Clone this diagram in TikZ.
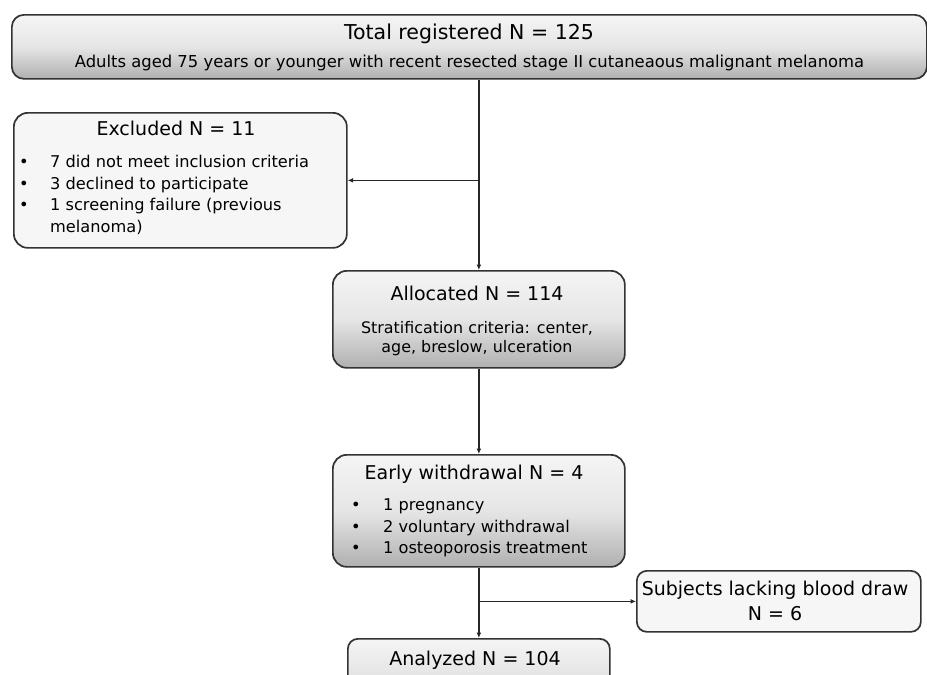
\documentclass[tikz,border=0pt]{standalone}
\usepackage{fontspec}
\setmainfont{DejaVu Sans}
\usetikzlibrary{arrows.meta}
\begin{document}
\begin{tikzpicture}[x=1pt,y=-1pt,
 box/.style={draw=black!80, line width=1.7pt, rounded corners=14pt, anchor=north west, inner sep=0pt},
 grad/.style={box, top color=gray!8, bottom color=gray!62, middle color=gray!20},
 plain/.style={box, fill=gray!7},
 ttl/.style={font=\fontsize{19}{21}\selectfont, inner sep=0pt, anchor=base},
 sub/.style={font=\fontsize{16}{19}\selectfont, inner sep=0pt, anchor=base},
 itm/.style={font=\fontsize{16.2}{20}\selectfont, inner sep=0pt, anchor=base west},
 conn/.style={line width=1.4pt, black!85},
 arr/.style={conn, -{Latex[length=5.5pt,width=5pt]}}
]
\path[use as bounding box, clip] (0,0) rectangle (927,675);
\fill[white] (0,0) rectangle (927,675);

% boxes
\node[grad, minimum width=915pt, minimum height=64pt, rounded corners=12pt] (top) at (11,14) {};
\node[plain, minimum width=333pt, minimum height=135pt] (excl) at (13,112) {};
\node[grad, minimum width=292pt, minimum height=97pt] (alloc) at (332,270) {};
\node[grad, minimum width=292pt, minimum height=112pt] (early) at (332,454) {};
\node[plain, minimum width=284pt, minimum height=61pt, rounded corners=10pt] (subj) at (636,570) {};
\node[grad, minimum width=262pt, minimum height=70pt, rounded corners=10pt] (anal) at (347,638) {};

% texts
\node[ttl, font=\fontsize{20.5}{23}\selectfont] (topT) at (469,39.5) {Total registered N = 125};
\node[sub, font=\fontsize{16.4}{19}\selectfont] (topS) at (469.5,67) {Adults aged 75 years or younger with recent resected stage II cutaneaous malignant melanoma};

\node[ttl] (exclT) at (176,135) {Excluded N = 11};
\node[itm] (eb1) at (19,167.5) {•};
\node[itm] (e1) at (50,167.5) {7 did not meet inclusion criteria};
\node[itm] (eb2) at (19,189) {•};
\node[itm] (e2) at (50,189) {3 declined to participate};
\node[itm] (eb3) at (19,210.5) {•};
\node[itm] (e3) at (50,210.5) {1 screening failure (previous};
\node[itm] (e4) at (50,232) {melanoma)};

\node[ttl] (allocT) at (477,300) {Allocated N = 114};
\node[sub, font=\fontsize{15.9}{19}\selectfont] (allocS1) at (477,333.5) {Stratification criteria: center,};
\node[sub, font=\fontsize{15.9}{19}\selectfont] (allocS2) at (477,352.5) {age, breslow, ulceration};

\node[ttl] (earlyT) at (474,479) {Early withdrawal N = 4};
\node[itm] (wb1) at (351,510.5) {•};
\node[itm] (w1) at (383,510.5) {1 pregnancy};
\node[itm] (wb2) at (351,532) {•};
\node[itm] (w2) at (383,532) {2 voluntary withdrawal};
\node[itm] (wb3) at (351,553.5) {•};
\node[itm] (w3) at (383,553.5) {1 osteoporosis treatment};

\node[ttl] (subjT1) at (775,595) {Subjects lacking blood draw};
\node[ttl] (subjT2) at (775,620) {N = 6};

\node[ttl] (analT) at (475,665) {Analyzed N = 104};

% connectors
\coordinate (j1) at (alloc.north |- top.south);
\coordinate (j2) at (alloc.north |- excl.east);
\coordinate (j3) at (early.south |- subj.west);
\draw[arr] (j1) -- (alloc.north);
\draw[arr] (j2) -- (excl.east);
\draw[arr] (alloc.south) -- (early.north);
\draw[arr] (early.south) -- (anal.north);
\draw[arr] (j3) -- (subj.west);
\end{tikzpicture}
\end{document}
